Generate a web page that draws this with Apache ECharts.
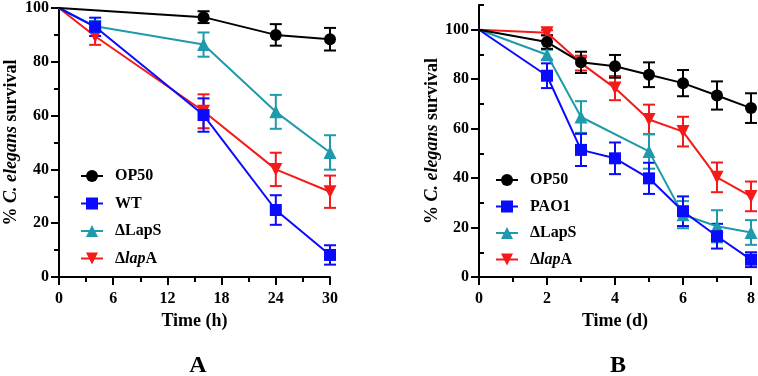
<!DOCTYPE html>
<html>
<head>
<meta charset="utf-8">
<script src="https://cdn.jsdelivr.net/npm/echarts@6/dist/echarts.min.js"></script>
<style>html,body{margin:0;padding:0;background:#fff}#c{width:758px;height:376px}</style>
</head>
<body>
<div id="c"></div>
<script>
// ---------- DATA ----------
const seriesNamesA = ['OP50', 'WT', 'ΔLapS', 'ΔlapA'];
const seriesNamesB = ['OP50', 'PAO1', 'ΔLapS', 'ΔlapA'];

// Panel A: time in hours
const timesA = [0, 4, 16, 24, 30];
const op50A = [100, null, 96.6, 90.0, 88.4];
const op50AErr = [0, null, 2.2, 4.0, 4.2];
const wtA = [100, 93.0, 60.2, 24.9, 8.2];
const wtAErr = [0, 3.4, 6.2, 5.5, 3.6];
const lapSA = [100, 93.2, 86.4, 61.4, 46.3];
const lapSAErr = [0, 2.0, 4.5, 6.3, 6.4];
const lapAA = [100, 89.5, 61.6, 40.0, 31.7];
const lapAAErr = [0, 3.2, 6.3, 6.2, 6.0];

// Panel B: time in days
const timesB = [0, 2, 3, 4, 5, 6, 7, 8];
const op50B = [100, 95.0, 86.8, 85.2, 81.8, 78.4, 73.4, 68.3];
const op50BErr = [0, 2.7, 4.3, 4.6, 5.0, 5.3, 5.7, 6.0];
const pao1B = [100, 81.4, 51.4, 48.0, 39.9, 26.6, 16.5, 7.0];
const pao1BErr = [0, 5.0, 6.5, 6.4, 6.3, 6.0, 5.0, 3.0];
const lapSB = [100, 89.9, 64.7, null, 50.8, 25.2, 20.5, 18.0];
const lapSBErr = [0, 2.0, 6.4, null, 7.0, 5.5, 6.5, 5.0];
const lapAB = [100, 98.8, 86.5, 76.4, 63.7, 58.8, 40.3, 32.6];
const lapABErr = [0, 1.0, 3.0, 4.9, 6.0, 6.0, 6.0, 6.0];

// Tick labels
const xTicksA = [0, 6, 12, 18, 24, 30];
const yTicksA = [0, 20, 40, 60, 80, 100];
const xTicksB = [0, 2, 4, 6, 8];
const yTicksB = [0, 20, 40, 60, 80, 100];
const yMinorTicksB = [10, 30, 50, 70, 90, 110];

// ---------- STYLE ----------
const FONT = 'Liberation Serif';
const C_BLACK = '#000000', C_BLUE = '#0a0aff', C_TEAL = '#1d9aab', C_RED = '#f51a1a';

function pairs(xs, ys) {
  const out = [];
  xs.forEach((x, i) => {
    if (ys[i] == null) return;
    const item = { value: [x, ys[i]] };
    if (x === 0) item.symbol = 'none';
    out.push(item);
  });
  return out;
}
function errData(xs, ys, es) {
  const out = [];
  xs.forEach((x, i) => {
    if (ys[i] == null || !es[i]) return;
    out.push([x, ys[i], es[i]]);
  });
  return out;
}
function lineSeries(name, xs, ys, color, symbol, size, rotate, xi, yi) {
  return {
    name: name, type: 'line', xAxisIndex: xi, yAxisIndex: yi,
    data: pairs(xs, ys), symbol: symbol, symbolSize: size, symbolRotate: rotate,
    showAllSymbol: true,
    lineStyle: { color: color, width: 2 },
    itemStyle: { color: color },
    emphasis: { disabled: true }, animation: false, z: 3
  };
}
function errSeries(xs, ys, es, color, xi, yi) {
  return {
    type: 'custom', xAxisIndex: xi, yAxisIndex: yi,
    data: errData(xs, ys, es),
    encode: { x: 0, y: 1 },
    animation: false, z: 3, silent: true,
    renderItem: function (params, api) {
      const x = api.value(0), y = api.value(1), e = api.value(2);
      const t = api.coord([x, y + e]);
      const b = api.coord([x, y - e]);
      const w = 6;
      const st = { stroke: color, lineWidth: 2 };
      return {
        type: 'group', children: [
          { type: 'line', shape: { x1: t[0], y1: t[1], x2: b[0], y2: b[1] }, style: st },
          { type: 'line', shape: { x1: t[0] - w, y1: t[1], x2: t[0] + w, y2: t[1] }, style: st },
          { type: 'line', shape: { x1: b[0] - w, y1: b[1], x2: b[0] + w, y2: b[1] }, style: st }
        ]
      };
    }
  };
}

const labelStyle = { fontFamily: FONT, fontWeight: 'bold', fontSize: 16, color: '#000' };
const nameStyle = {
  fontFamily: FONT, fontWeight: 'bold', fontSize: 18, color: '#000',
  rich: { i: { fontFamily: FONT, fontWeight: 'bold', fontStyle: 'italic', fontSize: 18, color: '#000' } }
};
const axisLine = { show: true, onZero: false, lineStyle: { color: '#000', width: 2 } };

function xAxisCfg(gi, max, interval, ticks, name) {
  return {
    type: 'value', gridIndex: gi, min: 0, max: max, interval: interval,
    axisLine: axisLine,
    axisTick: { show: true, length: 8, lineStyle: { color: '#000', width: 2 } },
    minorTick: { show: true, splitNumber: 2, length: 5, lineStyle: { color: '#000', width: 2 } },
    splitLine: { show: false },
    axisLabel: { ...labelStyle, margin: 14, customValues: ticks },
    name: name, nameLocation: 'middle', nameGap: 34, nameTextStyle: nameStyle
  };
}
const yName = '% {i|C. elegans} survival';

const legendFormatter = function (name) {
  if (name === 'ΔlapA') return 'Δ{i|lap}A';
  return name;
};
const legendText = {
  fontFamily: FONT, fontWeight: 'bold', fontSize: 16, color: '#000', lineHeight: 16,
  padding: [0, 0, 0, 7],
  rich: { i: { fontFamily: FONT, fontWeight: 'bold', fontStyle: 'italic', fontSize: 16, color: '#000', lineHeight: 16 } }
};

const option = {
  backgroundColor: '#fff',
  animation: false,
  grid: [
    { left: 59, top: 5, width: 271, height: 272 },
    { left: 479, top: 5, width: 272, height: 272 }
  ],
  xAxis: [
    xAxisCfg(0, 30, 6, xTicksA, 'Time (h)'),
    xAxisCfg(1, 8, 2, xTicksB, 'Time (d)')
  ],
  yAxis: [
    {
      type: 'value', gridIndex: 0, min: 0, max: 100, interval: 20,
      axisLine: axisLine,
      axisTick: { show: true, length: 8, lineStyle: { color: '#000', width: 2 } },
      minorTick: { show: true, splitNumber: 2, length: 5, lineStyle: { color: '#000', width: 2 } },
      splitLine: { show: false },
      axisLabel: { ...labelStyle, margin: 10, customValues: yTicksA },
      name: yName, nameLocation: 'middle', nameRotate: 90, nameGap: 39, nameTextStyle: nameStyle
    },
    {
      type: 'value', gridIndex: 1, min: 0, max: 110, interval: 20,
      axisLine: axisLine,
      axisTick: { show: true, length: 8, customValues: yTicksB, lineStyle: { color: '#000', width: 2 } },
      splitLine: { show: false },
      axisLabel: { ...labelStyle, margin: 10, customValues: yTicksB },
      name: yName, nameLocation: 'middle', nameRotate: 90, nameGap: 38, nameTextStyle: nameStyle
    },
    {
      type: 'value', gridIndex: 1, min: 0, max: 110, interval: 10,
      axisLine: { show: false },
      axisTick: { show: true, length: 5, customValues: yMinorTicksB, lineStyle: { color: '#000', width: 2 } },
      axisLabel: { show: false },
      splitLine: { show: false }
    }
  ],
  legend: [
    {
      data: seriesNamesA, orient: 'vertical', left: 75, top: 163,
      itemWidth: 22, itemHeight: 15, itemGap: 11.5, symbolRotate: 'inherit',
      formatter: legendFormatter, textStyle: legendText, selectedMode: false
    },
    {
      data: seriesNamesB, orient: 'vertical', left: 490, top: 167,
      itemWidth: 22, itemHeight: 15, itemGap: 10.5, symbolRotate: 'inherit',
      formatter: legendFormatter, textStyle: legendText, selectedMode: false
    }
  ],
  graphic: [
    { type: 'text', x: 198, y: 366, style: { text: 'A', font: 'bold 24px "Liberation Serif"', fill: '#000', align: 'center', verticalAlign: 'middle' } },
    { type: 'text', x: 618, y: 366, style: { text: 'B', font: 'bold 24px "Liberation Serif"', fill: '#000', align: 'center', verticalAlign: 'middle' } }
  ],
  series: [
    // Panel A
    errSeries(timesA, lapAA, lapAAErr, C_RED, 0, 0),
    lineSeries('ΔlapA', timesA, lapAA, C_RED, 'triangle', 13, 180, 0, 0),
    errSeries(timesA, lapSA, lapSAErr, C_TEAL, 0, 0),
    lineSeries('ΔLapS', timesA, lapSA, C_TEAL, 'triangle', 13, 0, 0, 0),
    errSeries(timesA, wtA, wtAErr, C_BLUE, 0, 0),
    lineSeries('WT', timesA, wtA, C_BLUE, 'rect', 12, 0, 0, 0),
    errSeries(timesA, op50A, op50AErr, C_BLACK, 0, 0),
    lineSeries('OP50', timesA, op50A, C_BLACK, 'circle', 12, 0, 0, 0),
    // Panel B
    errSeries(timesB, lapAB, lapABErr, C_RED, 1, 1),
    lineSeries('ΔlapA', timesB, lapAB, C_RED, 'triangle', 13, 180, 1, 1),
    errSeries(timesB, lapSB, lapSBErr, C_TEAL, 1, 1),
    lineSeries('ΔLapS', timesB, lapSB, C_TEAL, 'triangle', 13, 0, 1, 1),
    errSeries(timesB, pao1B, pao1BErr, C_BLUE, 1, 1),
    lineSeries('PAO1', timesB, pao1B, C_BLUE, 'rect', 12, 0, 1, 1),
    errSeries(timesB, op50B, op50BErr, C_BLACK, 1, 1),
    lineSeries('OP50', timesB, op50B, C_BLACK, 'circle', 12, 0, 1, 1)
  ]
};

const chart = echarts.init(document.getElementById('c'), null, { renderer: 'canvas' });
chart.setOption(option);
</script>
</body>
</html>
